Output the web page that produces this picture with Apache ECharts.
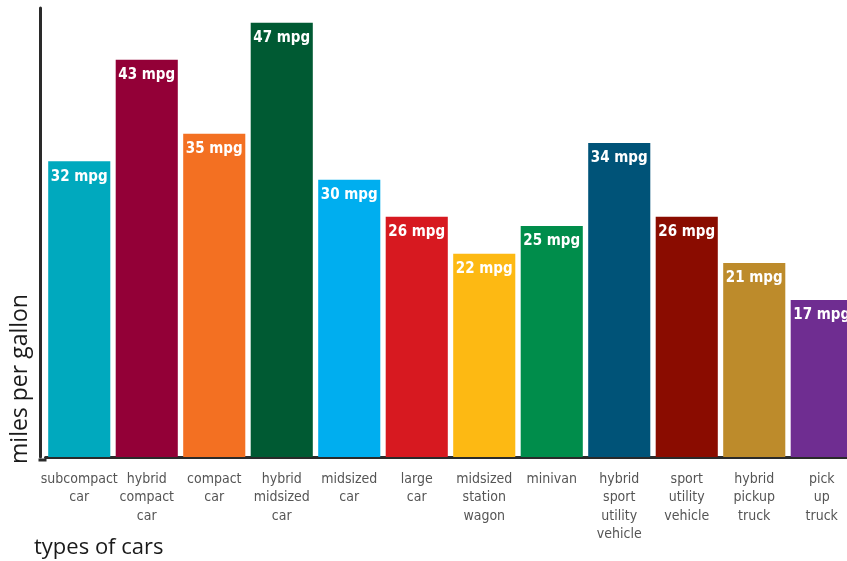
<!DOCTYPE html>
<html>
<head>
<meta charset="utf-8">
<script src="https://cdn.jsdelivr.net/npm/echarts@6/dist/echarts.min.js"></script>
<style>
  html, body { margin: 0; padding: 0; background: #fff; }
  #chart { width: 847px; height: 561px; }
</style>
</head>
<body>
<div id="chart"></div>
<script>
// Fuel economy by type of car
const categories = [
  'subcompact\ncar', 'hybrid\ncompact\ncar', 'compact\ncar', 'hybrid\nmidsized\ncar',
  'midsized\ncar', 'large\ncar', 'midsized\nstation\nwagon', 'minivan',
  'hybrid\nsport\nutility\nvehicle', 'sport\nutility\nvehicle', 'hybrid\npickup\ntruck', 'pick\nup\ntruck'
];
const mpg = [32, 43, 35, 47, 30, 26, 22, 25, 34, 26, 21, 17];
const barColors = [
  '#00a9be', '#930037', '#f37022', '#005a33', '#00aeef', '#d71920',
  '#fdb913', '#008d4b', '#005378', '#8a0c00', '#bd8b2b', '#6f2d91'
];

const narrow = "'Liberation Sans Narrow', 'DejaVu Sans Condensed', 'Roboto Condensed', sans-serif";

const chart = echarts.init(document.getElementById('chart'), null, { renderer: 'canvas' });
chart.setOption({
  animation: false,
  // the last band runs past the right edge of the page
  grid: { left: 45.5, width: 810, top: 8, bottom: 104, containLabel: false, outerBoundsMode: 'none' },
  xAxis: {
    type: 'category',
    data: categories,
    offset: 3,
    axisLine: { show: true, lineStyle: { color: '#2a2a2a', width: 3 } },
    axisTick: { show: false },
    axisLabel: {
      interval: 0,
      color: '#555',
      fontFamily: narrow,
      fontSize: 14,
      lineHeight: 18.5,
      margin: 10
    }
  },
  yAxis: {
    type: 'value',
    min: 0,
    max: 48.6,
    offset: 5.5,
    axisLine: { show: true, lineStyle: { color: '#2a2a2a', width: 3 } },
    axisTick: { show: false },
    axisLabel: { show: false },
    splitLine: { show: false }
  },
  series: [{
    type: 'bar',
    data: mpg.map((v, i) => ({ value: v, itemStyle: { color: barColors[i] } })),
    barCategoryGap: '8%',
    label: {
      show: true,
      position: 'insideTop',
      distance: 8,
      formatter: p => p.value + ' mpg',
      color: '#fff',
      fontFamily: narrow,
      fontWeight: 'bold',
      fontSize: 15
    }
  }],
  graphic: [
    // closes the corner where the two axis lines meet
    { type: 'rect', shape: { x: 38.5, y: 458.5, width: 8, height: 3 }, style: { fill: '#2a2a2a' } },
    {
      type: 'text', x: 20, y: 379, rotation: Math.PI / 2,
      style: {
        text: 'miles per gallon', fill: '#1a1a1a',
        font: "23px 'Open Sans', 'Noto Sans', sans-serif",
        align: 'center', verticalAlign: 'middle'
      }
    },
    {
      type: 'text', x: 34, y: 548,
      style: {
        text: 'types of cars', fill: '#1a1a1a',
        font: "22px 'Open Sans', 'Noto Sans', sans-serif",
        align: 'left', verticalAlign: 'middle'
      }
    }
  ]
});
</script>
</body>
</html>
